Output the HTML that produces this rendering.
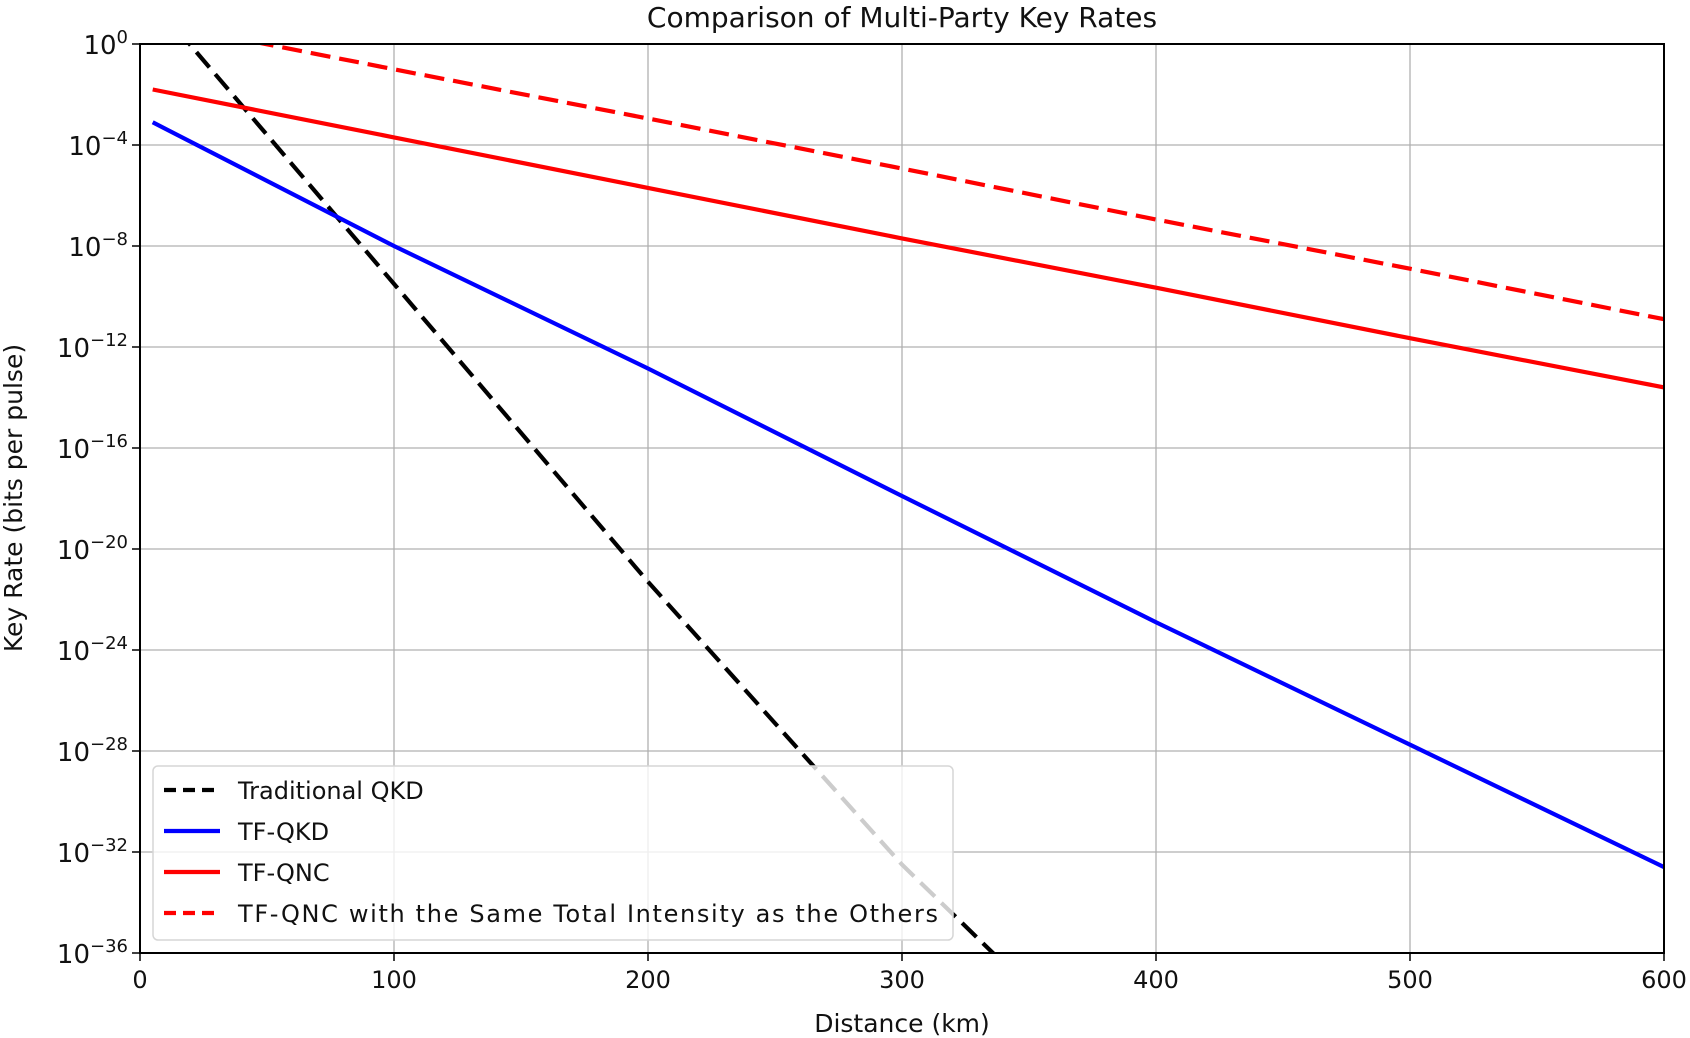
<!DOCTYPE html>
<html><head><meta charset="utf-8"><style>
html,body{margin:0;padding:0;background:#fff;}
svg{display:block;font-family:"DejaVu Sans","Liberation Sans",sans-serif;}
</style></head><body>
<svg id="chart" width="1690" height="1038" viewBox="0 0 1690 1038">
<text x="902" y="27" font-size="28" text-anchor="middle" fill="#111">Comparison of Multi-Party Key Rates</text>
<text x="902" y="1032" font-size="25" text-anchor="middle" fill="#111">Distance (km)</text>
<text transform="translate(22,498) rotate(-90)" font-size="25" text-anchor="middle" fill="#111">Key Rate (bits per pulse)</text>
<g id="grid"></g>
<defs><clipPath id="plotclip"><rect x="140" y="44" width="1524" height="909"/></clipPath></defs>
<g id="series" clip-path="url(#plotclip)"></g>
<g id="legend"></g>
<rect x="140" y="44" width="1524" height="909" fill="none" stroke="#000" stroke-width="2"/>
<g id="ticks"></g>
</svg>
<script>
const xTicks = [0,100,200,300,400,500,600];
const yTickExps = [0,-4,-8,-12,-16,-20,-24,-28,-32,-36];
const tradDist = [0,100,200,300,345];
const tradLog = [2.3,-9.5,-21.3,-32.5,-36.9];
const tfqkdDist = [5,100,200,300,400,500,600];
const tfqkdLog = [-3.1,-8.0,-12.85,-17.9,-22.9,-27.75,-32.6];
const tfqncDist = [5,100,200,300,400,500,600];
const tfqncLog = [-1.8,-3.7,-5.7,-7.7,-9.65,-11.65,-13.6];
const tfqncSameDist = [0,100,200,300,400,500,600];
const tfqncSameLog = [0.98,-1.0,-2.95,-4.93,-6.95,-8.9,-10.9];

const NS='http://www.w3.org/2000/svg';
const X0=140,X1=1664,Y0=44,Y1=953;
const xs=d=>X0+(d/600)*(X1-X0);
const ys=l=>Y0+(0-l)/36*(Y1-Y0);
function mk(tag,attrs,parent){const e=document.createElementNS(NS,tag);for(const k in attrs)e.setAttribute(k,attrs[k]);parent.appendChild(e);return e;}
const grid=document.getElementById('grid'),ticks=document.getElementById('ticks'),series=document.getElementById('series'),legend=document.getElementById('legend');
xTicks.forEach(t=>{
 const l=mk('line',{x1:xs(t),x2:xs(t),y1:Y0,y2:Y1,stroke:'#b0b0b0','stroke-width':1.3},grid);
 
 
 const tk=mk('line',{x1:xs(t),x2:xs(t),y1:Y1,y2:Y1+8,stroke:'#000','stroke-width':1.5},ticks);
 
 
 const tx=mk('text',{x:xs(t),y:Y1+35,'font-size':24,'text-anchor':'middle',fill:'#111'},ticks);
 tx.textContent=t;
 
 
});
yTickExps.forEach(e=>{
 const l=mk('line',{x1:X0,x2:X1,y1:ys(e),y2:ys(e),stroke:'#b0b0b0','stroke-width':1.3},grid);
 
 
 const tk=mk('line',{x1:X0-8,x2:X0,y1:ys(e),y2:ys(e),stroke:'#000','stroke-width':1.5},ticks);
 
 
 const tx=mk('text',{x:X0-12,y:ys(e)+10,'font-size':26,'text-anchor':'end',fill:'#111'},ticks);
 const base=document.createElementNS(NS,'tspan');base.textContent='10';tx.appendChild(base);
 const sup=document.createElementNS(NS,'tspan');sup.setAttribute('dy','-11');sup.setAttribute('font-size','18');sup.textContent=(e<0?'\u2212'+(-e):String(e));tx.appendChild(sup);
 
 
});
function drawLine(dist,logs,color,dash,name){
 const pts=dist.map((d,i)=>xs(d).toFixed(1)+','+ys(logs[i]).toFixed(1)).join(' ');
 const p=mk('polyline',{points:pts,fill:'none',stroke:color,'stroke-width':4.2},series);
 if(dash)p.setAttribute('stroke-dasharray',dash);
 
 
}
drawLine(tradDist,tradLog,'#000','20 9','traditional-qkd-line');
drawLine(tfqkdDist,tfqkdLog,'#0000ff',null,'tf-qkd-line');
drawLine(tfqncDist,tfqncLog,'#ff0000',null,'tf-qnc-line');
drawLine(tfqncSameDist,tfqncSameLog,'#ff0000','20 9','tf-qnc-same-intensity-line');
const box=mk('rect',{x:153,y:766,width:800,height:174,rx:5,fill:'rgba(255,255,255,0.8)',stroke:'#d6d6d6','stroke-width':1.5},legend);


const entries=[['Traditional QKD','#000','12 7'],['TF-QKD','#0000ff',null],['TF-QNC','#ff0000',null],['TF-QNC with the Same Total Intensity as the Others','#ff0000','12 7']];
entries.forEach((en,i)=>{
 const y=790+i*41;
 const l=mk('line',{x1:164,x2:220,y1:y,y2:y,stroke:en[1],'stroke-width':4.2},legend);
 if(en[2])l.setAttribute('stroke-dasharray',en[2]);
 
 
 const t=mk('text',{x:238,y:y+9,'font-size':24,fill:'#111'},legend);
 if(en[0].length>20)t.setAttribute('textLength','700');
 t.textContent=en[0];
 
 
});
</script>
</body></html>
